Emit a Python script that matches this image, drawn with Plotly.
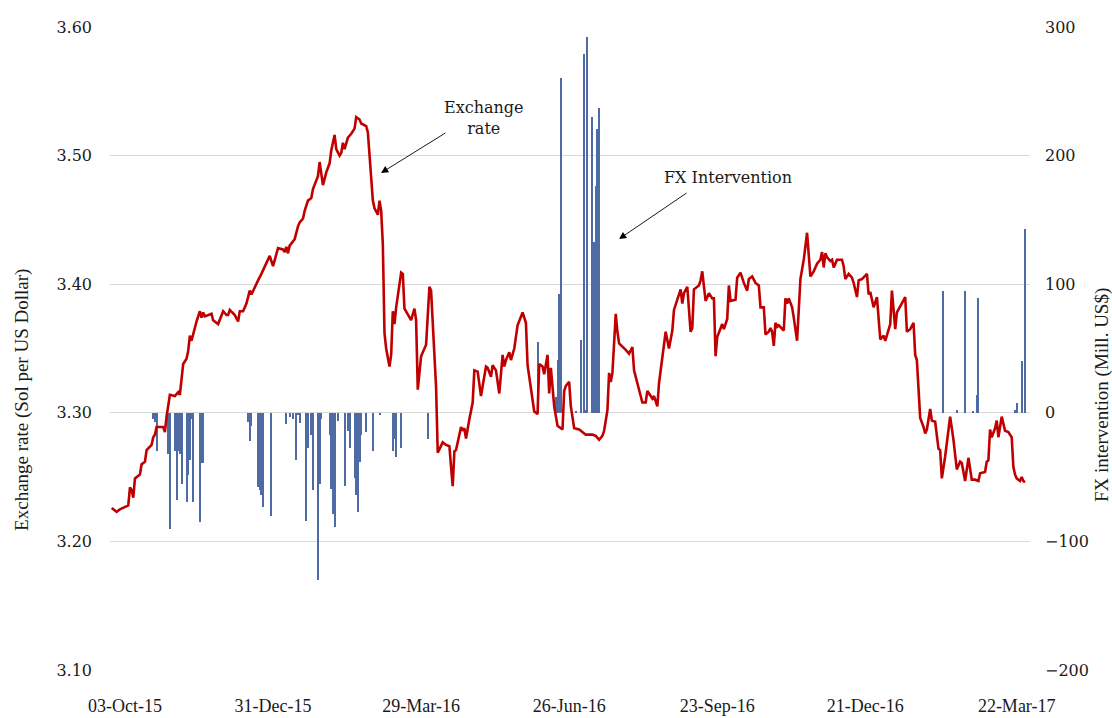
import plotly.graph_objects as go

# ---------------- Exchange rate (Sol per US Dollar) ----------------
rate_dates = [
    "2015-09-25", "2015-09-28", "2015-09-30", "2015-10-05", "2015-10-06", "2015-10-07", "2015-10-08",
    "2015-10-09", "2015-10-12", "2015-10-13", "2015-10-15", "2015-10-16", "2015-10-19", "2015-10-20",
    "2015-10-21", "2015-10-22", "2015-10-26", "2015-10-27", "2015-10-28", "2015-10-30", "2015-11-02",
    "2015-11-04", "2015-11-05", "2015-11-07", "2015-11-09", "2015-11-10", "2015-11-11", "2015-11-12",
    "2015-11-15", "2015-11-17", "2015-11-18", "2015-11-19", "2015-11-20", "2015-11-24", "2015-11-25",
    "2015-11-28", "2015-12-01", "2015-12-03", "2015-12-04", "2015-12-05", "2015-12-08", "2015-12-10",
    "2015-12-11", "2015-12-13", "2015-12-15", "2015-12-17", "2015-12-18", "2015-12-21", "2015-12-22",
    "2015-12-24", "2015-12-26", "2015-12-29", "2015-12-31", "2016-01-02", "2016-01-03", "2016-01-06",
    "2016-01-07", "2016-01-08", "2016-01-09", "2016-01-10", "2016-01-13", "2016-01-15", "2016-01-16",
    "2016-01-18", "2016-01-19", "2016-01-21", "2016-01-23", "2016-01-24", "2016-01-26", "2016-01-27",
    "2016-01-28", "2016-01-30", "2016-02-01", "2016-02-03", "2016-02-04", "2016-02-06", "2016-02-07",
    "2016-02-09", "2016-02-10", "2016-02-11", "2016-02-12", "2016-02-14", "2016-02-16", "2016-02-18",
    "2016-02-19", "2016-02-21", "2016-02-22", "2016-02-25", "2016-02-26", "2016-02-27", "2016-02-28",
    "2016-02-29", "2016-03-01", "2016-03-02", "2016-03-03", "2016-03-04", "2016-03-05", "2016-03-06",
    "2016-03-07", "2016-03-08", "2016-03-10", "2016-03-11", "2016-03-12", "2016-03-13", "2016-03-14",
    "2016-03-17", "2016-03-18", "2016-03-19", "2016-03-21", "2016-03-23", "2016-03-25", "2016-03-26",
    "2016-03-27", "2016-03-29", "2016-04-01", "2016-04-03", "2016-04-04", "2016-04-05", "2016-04-07",
    "2016-04-08", "2016-04-11", "2016-04-13", "2016-04-15", "2016-04-16", "2016-04-17", "2016-04-18",
    "2016-04-19", "2016-04-22", "2016-04-23", "2016-04-24", "2016-04-25", "2016-04-27", "2016-04-29",
    "2016-04-30", "2016-05-02", "2016-05-04", "2016-05-07", "2016-05-08", "2016-05-10", "2016-05-11",
    "2016-05-13", "2016-05-15", "2016-05-17", "2016-05-18", "2016-05-19", "2016-05-21", "2016-05-22",
    "2016-05-24", "2016-05-26", "2016-05-29", "2016-05-30", "2016-05-31", "2016-06-01", "2016-06-03",
    "2016-06-05", "2016-06-07", "2016-06-08", "2016-06-10", "2016-06-11", "2016-06-13", "2016-06-14",
    "2016-06-15", "2016-06-17", "2016-06-19", "2016-06-22", "2016-06-23", "2016-06-24", "2016-06-26",
    "2016-06-27", "2016-06-29", "2016-07-02", "2016-07-03", "2016-07-06", "2016-07-10", "2016-07-12",
    "2016-07-14", "2016-07-16", "2016-07-17", "2016-07-19", "2016-07-20", "2016-07-21", "2016-07-22",
    "2016-07-24", "2016-07-25", "2016-07-26", "2016-07-30", "2016-08-01", "2016-08-03", "2016-08-04",
    "2016-08-06", "2016-08-08", "2016-08-09", "2016-08-11", "2016-08-12", "2016-08-14", "2016-08-15",
    "2016-08-16", "2016-08-18", "2016-08-19", "2016-08-21", "2016-08-23", "2016-08-25", "2016-08-27",
    "2016-08-28", "2016-08-30", "2016-09-01", "2016-09-02", "2016-09-03", "2016-09-05", "2016-09-07",
    "2016-09-08", "2016-09-09", "2016-09-12", "2016-09-13", "2016-09-14", "2016-09-15", "2016-09-16",
    "2016-09-18", "2016-09-20", "2016-09-21", "2016-09-22", "2016-09-23", "2016-09-25", "2016-09-26",
    "2016-09-27", "2016-09-29", "2016-09-30", "2016-10-01", "2016-10-04", "2016-10-05", "2016-10-07",
    "2016-10-09", "2016-10-11", "2016-10-12", "2016-10-14", "2016-10-15", "2016-10-16", "2016-10-18",
    "2016-10-19", "2016-10-21", "2016-10-22", "2016-10-24", "2016-10-25", "2016-10-26", "2016-10-27",
    "2016-10-28", "2016-10-29", "2016-10-30", "2016-11-01", "2016-11-02", "2016-11-03", "2016-11-04",
    "2016-11-05", "2016-11-07", "2016-11-08", "2016-11-10", "2016-11-12", "2016-11-14", "2016-11-16",
    "2016-11-18", "2016-11-20", "2016-11-22", "2016-11-24", "2016-11-25", "2016-11-26", "2016-11-27",
    "2016-11-28", "2016-11-30", "2016-12-01", "2016-12-02", "2016-12-03", "2016-12-04", "2016-12-07",
    "2016-12-08", "2016-12-09", "2016-12-11", "2016-12-13", "2016-12-14", "2016-12-16", "2016-12-17",
    "2016-12-19", "2016-12-21", "2016-12-22", "2016-12-23", "2016-12-24", "2016-12-26", "2016-12-28",
    "2016-12-30", "2017-01-01", "2017-01-02", "2017-01-04", "2017-01-05", "2017-01-06", "2017-01-08",
    "2017-01-09", "2017-01-12", "2017-01-14", "2017-01-15", "2017-01-17", "2017-01-19", "2017-01-20",
    "2017-01-21", "2017-01-22", "2017-01-23", "2017-01-25", "2017-01-26", "2017-01-27", "2017-01-29",
    "2017-01-30", "2017-02-01", "2017-02-03", "2017-02-04", "2017-02-05", "2017-02-07", "2017-02-10",
    "2017-02-12", "2017-02-14", "2017-02-16", "2017-02-17", "2017-02-19", "2017-02-21", "2017-02-23",
    "2017-02-25", "2017-02-27", "2017-02-28", "2017-03-03", "2017-03-04", "2017-03-05", "2017-03-06",
    "2017-03-07", "2017-03-09", "2017-03-10", "2017-03-11", "2017-03-13", "2017-03-15", "2017-03-17",
    "2017-03-19", "2017-03-20", "2017-03-21", "2017-03-22", "2017-03-24", "2017-03-25", "2017-03-26",
    "2017-03-27",
]
rate_values = [
    3.226, 3.223, 3.225, 3.228, 3.242, 3.240, 3.234,
    3.249, 3.252, 3.260, 3.262, 3.271, 3.275, 3.281,
    3.283, 3.289, 3.289, 3.285, 3.297, 3.314, 3.313,
    3.316, 3.314, 3.338, 3.342, 3.348, 3.360, 3.356,
    3.371, 3.379, 3.374, 3.378, 3.375, 3.377, 3.372,
    3.369, 3.379, 3.376, 3.376, 3.380, 3.376, 3.371,
    3.379, 3.379, 3.385, 3.395, 3.392, 3.401, 3.403,
    3.408, 3.414, 3.422, 3.414, 3.425, 3.428, 3.427,
    3.425, 3.429, 3.424, 3.430, 3.435, 3.445, 3.448,
    3.451, 3.457, 3.465, 3.467, 3.474, 3.481, 3.484,
    3.495, 3.477, 3.487, 3.494, 3.504, 3.516, 3.505,
    3.500, 3.502, 3.510, 3.505, 3.514, 3.517, 3.521,
    3.530, 3.528, 3.525, 3.523, 3.518, 3.500, 3.480,
    3.465, 3.459, 3.457, 3.454, 3.465, 3.457, 3.431,
    3.362, 3.350, 3.336, 3.345, 3.379, 3.369, 3.382,
    3.409, 3.408, 3.381, 3.377, 3.372, 3.381, 3.372,
    3.318, 3.344, 3.353, 3.398, 3.395, 3.372, 3.320,
    3.269, 3.277, 3.275, 3.274, 3.258, 3.243, 3.270,
    3.271, 3.289, 3.286, 3.288, 3.280, 3.295, 3.308,
    3.333, 3.332, 3.313, 3.336, 3.335, 3.328, 3.337,
    3.333, 3.315, 3.345, 3.336, 3.341, 3.347, 3.341,
    3.350, 3.368, 3.378, 3.373, 3.370, 3.337, 3.319,
    3.301, 3.299, 3.338, 3.336, 3.330, 3.345, 3.315,
    3.335, 3.305, 3.290, 3.287, 3.317, 3.321, 3.324,
    3.305, 3.288, 3.287, 3.286, 3.283, 3.283, 3.282,
    3.279, 3.282, 3.286, 3.302, 3.331, 3.324, 3.331,
    3.377, 3.363, 3.354, 3.349, 3.346, 3.351, 3.333,
    3.323, 3.313, 3.308, 3.308, 3.317, 3.313, 3.311,
    3.313, 3.305, 3.323, 3.344, 3.363, 3.350, 3.364,
    3.380, 3.388, 3.396, 3.385, 3.393, 3.398, 3.363,
    3.366, 3.396, 3.399, 3.403, 3.410, 3.399, 3.387,
    3.393, 3.389, 3.389, 3.344, 3.359, 3.365, 3.369,
    3.365, 3.373, 3.399, 3.387, 3.388, 3.405, 3.409,
    3.401, 3.395, 3.404, 3.406, 3.403, 3.401, 3.399,
    3.382, 3.382, 3.361, 3.363, 3.366, 3.363, 3.352,
    3.370, 3.367, 3.368, 3.365, 3.364, 3.389, 3.385,
    3.389, 3.382, 3.374, 3.356, 3.404, 3.419, 3.440,
    3.406, 3.410, 3.416, 3.419, 3.425, 3.413, 3.424,
    3.421, 3.418, 3.419, 3.413, 3.416, 3.419, 3.419,
    3.414, 3.404, 3.408, 3.405, 3.401, 3.390, 3.403,
    3.404, 3.407, 3.408, 3.392, 3.394, 3.382, 3.390,
    3.357, 3.360, 3.356, 3.364, 3.369, 3.395, 3.365,
    3.378, 3.385, 3.390, 3.363, 3.365, 3.370, 3.345,
    3.341, 3.320, 3.296, 3.289, 3.284, 3.287, 3.303,
    3.294, 3.293, 3.272, 3.271, 3.249, 3.266, 3.297,
    3.279, 3.256, 3.262, 3.261, 3.247, 3.265, 3.248,
    3.248, 3.247, 3.253, 3.254, 3.262, 3.263, 3.287,
    3.281, 3.288, 3.294, 3.281, 3.297, 3.286, 3.285,
    3.281, 3.258, 3.252, 3.249, 3.247, 3.250, 3.247,
    3.246,
]

# ---------------- FX intervention (Mill. US$) ----------------
fx_dates = [
    "2015-10-20", "2015-10-21", "2015-10-22", "2015-10-29", "2015-10-30", "2015-11-02", "2015-11-03",
    "2015-11-04", "2015-11-05", "2015-11-06", "2015-11-09", "2015-11-10", "2015-11-11", "2015-11-12",
    "2015-11-13", "2015-11-17", "2015-11-18", "2015-11-19", "2015-12-16", "2015-12-17", "2015-12-18",
    "2015-12-22", "2015-12-23", "2015-12-24", "2015-12-25", "2015-12-30", "2016-01-08", "2016-01-10",
    "2016-01-12", "2016-01-14", "2016-01-15", "2016-01-16", "2016-01-20", "2016-01-21", "2016-01-23",
    "2016-01-24", "2016-01-27", "2016-01-28", "2016-01-29", "2016-02-03", "2016-02-04", "2016-02-05",
    "2016-02-06", "2016-02-08", "2016-02-12", "2016-02-14", "2016-02-15", "2016-02-18", "2016-02-19",
    "2016-02-20", "2016-02-21", "2016-02-22", "2016-02-25", "2016-02-29", "2016-03-04", "2016-03-12",
    "2016-03-13", "2016-03-14", "2016-03-17", "2016-04-02", "2016-06-07", "2016-06-18", "2016-06-19",
    "2016-06-20", "2016-06-21", "2016-06-30", "2016-07-03", "2016-07-05", "2016-07-06", "2016-07-07",
    "2016-07-10", "2016-07-11", "2016-07-12", "2016-07-13", "2016-07-14", "2017-02-06", "2017-02-14",
    "2017-02-19", "2017-02-24", "2017-02-26", "2017-02-27", "2017-03-21", "2017-03-22", "2017-03-25",
    "2017-03-27",
]
fx_values = [
    -5, -7, -30, -32, -90, -30, -68,
    -30, -32, -55, -69, -48, -37, -5,
    -69, -85, -39, -39, -7, -22, -10,
    -58, -60, -64, -73, -80, -9, -3,
    -5, -37, -2, -8, -84, -27, -17,
    -60, -130, -55, -5, -17, -59, -79,
    -89, -6, -57, -14, -27, -51, -64,
    -77, -38, -17, -15, -30, -2, -30,
    -20, -34, -27, -20, 55, 12, 41,
    92, 260, 1, 57, 279, 2, 292,
    230, 133, 176, 221, 237, 95, 2,
    95, 1, 14, 89, 2, 8, 40,
    143,
]

# ---------------- Axis ticks ----------------
x_tick_dates = ["2015-10-03", "2015-12-31", "2016-03-29", "2016-06-26",
                "2016-09-23", "2016-12-21", "2017-03-22"]
x_tick_labels = ["03-Oct-15", "31-Dec-15", "29-Mar-16", "26-Jun-16",
                 "23-Sep-16", "21-Dec-16", "22-Mar-17"]

BAR_COLOR = "#4E6BA3"
LINE_COLOR = "#C00000"
TEXT = "#1a1a1a"

fig = go.Figure()

fig.add_trace(go.Bar(
    x=fx_dates, y=fx_values, yaxis="y",
    marker=dict(color=BAR_COLOR, line=dict(width=0)),
    width=[0.6 * 86400000] * len(fx_dates),
    name="FX Intervention", showlegend=False,
))

fig.add_trace(go.Scatter(
    x=rate_dates, y=rate_values, yaxis="y2", mode="lines",
    line=dict(color=LINE_COLOR, width=2.6),
    name="Exchange rate", showlegend=False,
))

fig.update_layout(
    width=1112, height=718,
    margin=dict(l=110, r=82, t=27, b=48, autoexpand=False),
    paper_bgcolor="white", plot_bgcolor="white",
    bargap=0,
    xaxis=dict(
        type="date", range=["2015-09-24", "2017-03-30"],
        tickvals=x_tick_dates, ticktext=x_tick_labels,
        showgrid=False, zeroline=False, showline=False, ticks="",
        tickfont=dict(family="Liberation Serif", size=18, color=TEXT),
        ticklabelstandoff=23, automargin=False,
    ),
    yaxis=dict(
        side="right", range=[-200, 300], dtick=100, tick0=0,
        showgrid=True, gridcolor="#D9D9D9", gridwidth=1,
        zeroline=False, showline=False, ticks="",
        tickfont=dict(family="DejaVu Serif", size=16, color=TEXT),
        ticklabelstandoff=14, automargin=False,
    ),
    yaxis2=dict(
        side="left", overlaying="y", range=[3.10, 3.60], dtick=0.1, tick0=3.1,
        tickformat=".2f", showgrid=False, zeroline=False, showline=False, ticks="",
        tickfont=dict(family="DejaVu Serif", size=16, color=TEXT),
        ticklabelstandoff=17, automargin=False,
    ),
    annotations=[
        dict(text="Exchange rate (Sol per US Dollar)", xref="paper", yref="paper",
             x=-0.0957, y=0.42, textangle=-90, showarrow=False,
             font=dict(family="Liberation Serif", size=19, color=TEXT),
             xanchor="center", yanchor="middle"),
        dict(text="FX intervention (Mill. US$)", xref="paper", yref="paper",
             x=1.0783, y=0.4277, textangle=-90, showarrow=False,
             font=dict(family="Liberation Serif", size=19, color=TEXT),
             xanchor="center", yanchor="middle"),
        dict(text="Exchange<br>rate", xref="paper", yref="paper",
             x=0.4065, y=0.8585, showarrow=False, align="center",
             font=dict(family="DejaVu Serif", size=16, color=TEXT),
             xanchor="center", yanchor="middle"),
        dict(text="FX Intervention", xref="paper", yref="paper",
             x=0.6717, y=0.7652, showarrow=False,
             font=dict(family="DejaVu Serif", size=16, color=TEXT),
             xanchor="center", yanchor="middle"),
        dict(text="", xref="paper", yref="paper", x=0.2946, y=0.773,
             showarrow=True, axref="pixel", ayref="pixel", ax=66, ay=-41,
             arrowhead=2, arrowsize=1.6, arrowwidth=0.9, arrowcolor="#000000"),
        dict(text="", xref="paper", yref="paper", x=0.5533, y=0.6703,
             showarrow=True, axref="pixel", ayref="pixel", ax=69, ay=-47,
             arrowhead=2, arrowsize=1.6, arrowwidth=0.9, arrowcolor="#000000"),
    ],
)

fig.write_html(
    "out.html",
    config={"displayModeBar": False},
    post_script="document.body.style.margin='0px';document.body.style.overflow='hidden';",
)
